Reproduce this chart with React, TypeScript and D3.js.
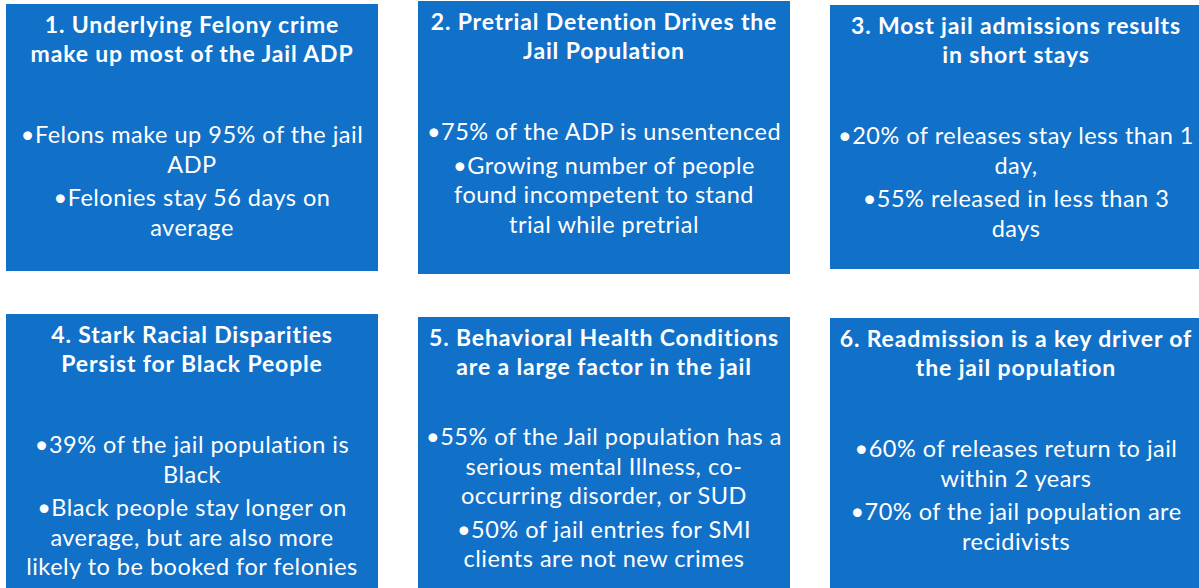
import React, { useEffect, useRef } from "react";
import * as d3 from "d3";

const titles: string[][] = [
  ["1. Underlying Felony crime", "make up most of the Jail ADP"],
  ["2. Pretrial Detention Drives the", "Jail Population"],
  ["3. Most jail admissions results", "in short stays"],
  ["4. Stark Racial Disparities", "Persist for Black People"],
  ["5. Behavioral Health Conditions", "are a large factor in the jail"],
  ["6. Readmission is a key driver of", "the jail population"],
];

const bullets: string[][][] = [
  [["•Felons make up 95% of the jail", "ADP"], ["•Felonies stay 56 days on", "average"]],
  [["•75% of the ADP is unsentenced"], ["•Growing number of people", "found incompetent to stand", "trial while pretrial"]],
  [["•20% of releases stay less than 1", "day,"], ["•55% released in less than 3", "days"]],
  [["•39% of the jail population is", "Black"], ["•Black people stay longer on", "average, but are also more", "likely to be booked for felonies"]],
  [["•55% of the Jail population has a", "serious mental Illness, co-", "occurring disorder, or SUD"], ["•50% of jail entries for SMI", "clients are not new crimes"]],
  [["•60% of releases return to jail", "within 2 years"], ["•70% of the jail population are", "recidivists"]],
];

// layout (positions, not data)
const W = 1199;
const H = 588;
const colX = [6, 418, 830];
const boxW = 372;
const boxTop = [4, 1, 5, 314, 317, 318];
const boxBottom = [271, 274, 269, 600, 600, 600];
const bodyOffset = [139, 139, 139, 139, 128, 139];
const FILL = "#1170c8";
const FONT = "Lato, 'Open Sans', sans-serif";

export default function App() {
  const ref = useRef<SVGSVGElement>(null);
  useEffect(() => {
    const svg = d3.select(ref.current);
    svg.selectAll("*").remove();
    const g = svg
      .selectAll("g.box")
      .data(titles.map((t, i) => ({ t, b: bullets[i], i })))
      .enter()
      .append("g")
      .attr("class", "box");

    g.append("rect")
      .attr("x", (d) => colX[d.i % 3])
      .attr("y", (d) => boxTop[d.i])
      .attr("width", boxW)
      .attr("height", (d) => boxBottom[d.i] - boxTop[d.i])
      .attr("fill", FILL);

    g.each(function (d) {
      const sel = d3.select(this);
      const cx = colX[d.i % 3] + boxW / 2;
      const top = boxTop[d.i];
      d.t.forEach((line, k) => {
        sel
          .append("text")
          .attr("x", cx)
          .attr("y", top + 29 + k * 29)
          .attr("text-anchor", "middle")
          .attr("font-family", FONT)
          .attr("font-weight", 700)
          .attr("font-size", 23)
          .attr("letter-spacing", 0.85)
          .attr("fill", "#fff")
          .text(line);
      });
      let y = top + bodyOffset[d.i];
      d.b.forEach((para, pi) => {
        if (pi > 0) y += 4;
        para.forEach((line) => {
          sel
            .append("text")
            .attr("x", cx)
            .attr("y", y)
            .attr("text-anchor", "middle")
            .attr("font-family", FONT)
            .attr("font-size", 23.5)
            .attr("letter-spacing", 0.5)
            .attr("fill", "#fff")
            .text(line);
          y += 29.5;
        });
      });
    });
  }, []);
  return (
    <svg
      ref={ref}
      width={W}
      height={H}
      style={{ position: "absolute", left: 0, top: 0, background: "#fff" }}
    />
  );
}
